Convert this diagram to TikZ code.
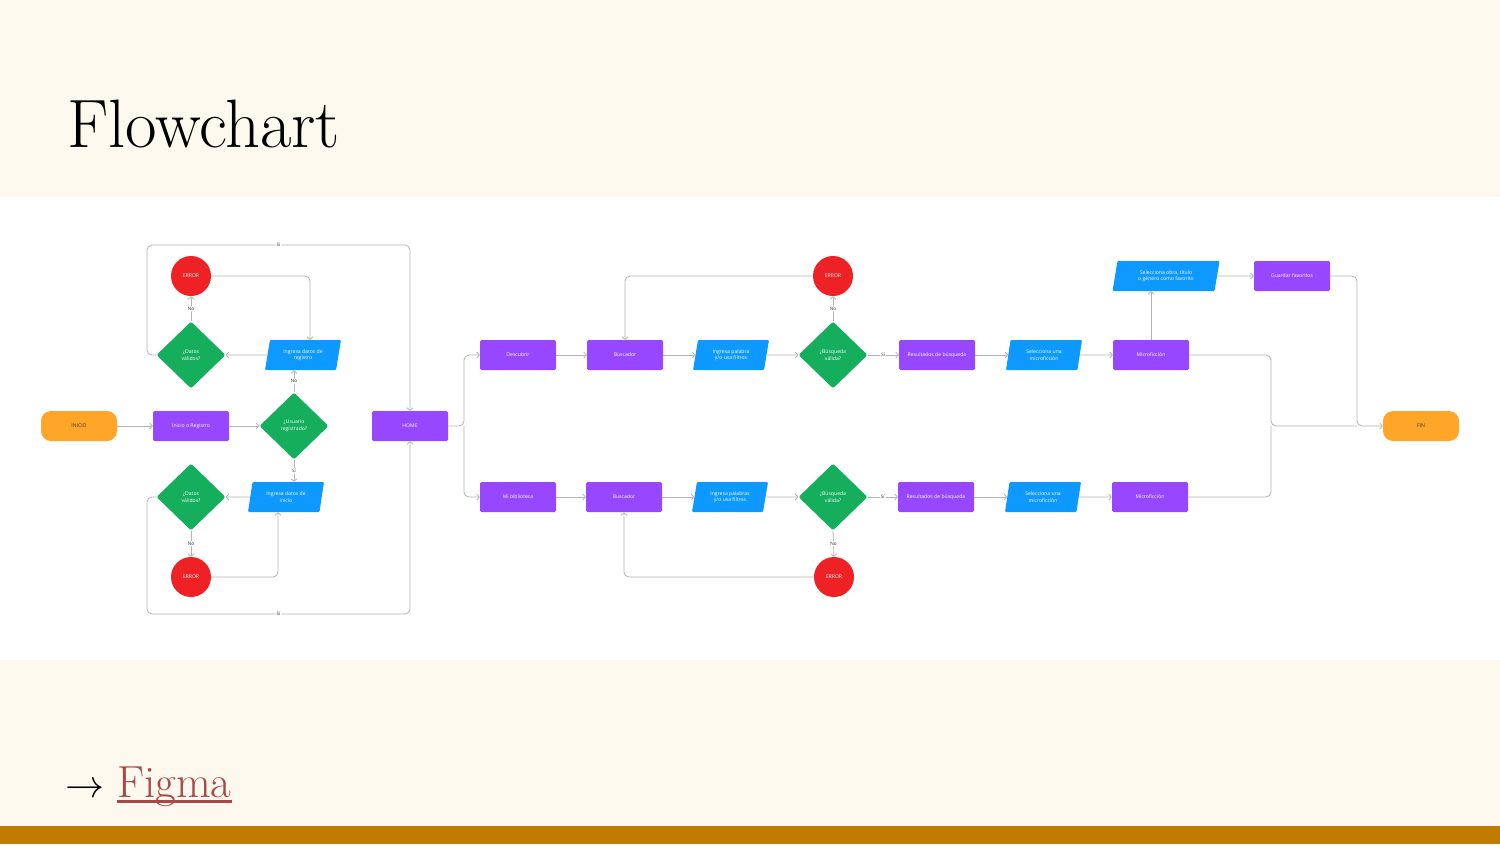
\documentclass[tikz,border=0pt]{standalone}
\usepackage{fontspec}
\usepackage{tikz}
\usetikzlibrary{arrows.meta,shapes.geometric}
\newfontfamily\figfont{Open Sans}
\definecolor{creamcolor}{RGB}{253,249,239}
\definecolor{barcolor}{RGB}{193,124,0}
\definecolor{linkcolor}{RGB}{169,72,70}
\definecolor{proccolor}{RGB}{151,71,255}
\definecolor{iocolor}{RGB}{13,153,255}
\definecolor{deccolor}{RGB}{20,174,92}
\definecolor{errcolor}{RGB}{238,34,36}
\definecolor{termcolor}{RGB}{255,166,41}
\definecolor{flowcolor}{RGB}{180,180,180}
\tikzset{
  fc proc/.style={
    rectangle,
    rounded corners=1.5pt,
    fill=proccolor,
    minimum width=76pt,
    minimum height=30pt,
    inner sep=1pt,
    align=center,
    text=white,
    font=\figfont\fontsize{5.1}{6.6}\selectfont
  },
  fc term/.style={
    fc proc,
    rounded corners=10pt,
    fill=termcolor,
    text=black!80
  },
  fc io/.style={
    fc proc,
    trapezium,
    trapezium left angle=70,
    trapezium right angle=110,
    trapezium stretches body,
    rounded corners=1pt,
    fill=iocolor
  },
  fc io wide/.style={
    fc io,
    minimum width=107pt
  },
  fc dec/.style={
    fc proc,
    diamond,
    fill=deccolor,
    minimum width=69pt,
    minimum height=67pt,
    inner sep=0pt
  },
  fc err/.style={
    fc proc,
    circle,
    fill=errcolor,
    minimum size=40pt,
    inner sep=0pt
  },
  flow/.style={
    draw=flowcolor,
    line width=0.8pt,
    rounded corners=5pt,
    -{Straight Barb[length=2.5pt,width=6pt]}
  },
  lab/.style={
    fill=white,
    inner sep=1pt,
    text=black!85,
    font=\figfont\fontsize{4.6}{5}\selectfont
  }
}

\begin{document}
\begin{tikzpicture}[x=1pt, y=-1pt]

  % Slide background
  \useasboundingbox (0,0) rectangle (1500,844);
  \fill[creamcolor] (0,0) rectangle (1500,844);
  \fill[white] (0,197) rectangle (1500,660);
  \fill[barcolor] (0,826) rectangle (1500,844);

  % Title and link
  \node[anchor=base west, inner sep=0pt, font=\fontsize{68.5}{74}\selectfont] (title) at (67,147) {Flowchart};
  \node[anchor=base west, inner sep=0pt, scale=3.9] (linkarrow) at (65,797) {$\rightarrow$};
  \node[anchor=base west, inner sep=0pt, text=linkcolor, font=\fontsize{45}{50}\selectfont] (figma) at (117,797) {Figma};
  \draw[linkcolor, line width=2.6pt] ([yshift=-4.5pt]figma.base west) -- ([yshift=-4.5pt]figma.base east);

  % Login and registration
  \node[fc term] (inicio) at (79,426) {INICIO};
  \node[fc proc] (reg) at (191,426) {Inicio o Registro};
  \node[fc dec] (usr) at (294,426) {¿Usuario\\registrado?};
  \node[fc proc] (home) at (410,426) {HOME};
  \node[fc io] (regdata) at (303,355) {Ingresa datos de\\registro};
  \node[fc dec] (val1) at (191,355) {¿Datos\\válidos?};
  \node[fc err] (err1) at (191,276) {ERROR};
  \node[fc io] (logdata) at (286,497) {Ingresa datos de\\inicio};
  \node[fc dec] (val2) at (191,497) {¿Datos\\válidos?};
  \node[fc err] (err2) at (191,577) {ERROR};
  \coordinate (loopn) at (147,245);
  \coordinate (loops) at (147,614);

  \draw[flow] (inicio) -- (reg);
  \draw[flow] (reg) -- (usr);
  \draw[flow] (usr.north) -- node[lab] {No} (usr.north |- regdata.south);
  \draw[flow] (regdata) -- (val1.east);
  \draw[flow] (val1.north) -- node[lab] {No} (err1.south);
  \draw[flow] (err1.east) -| ([xshift=7pt]regdata.north);
  \draw[flow] (val1.west) -| (loopn) -| node[lab, pos=0.25] {Sí} (home.north);
  \draw[flow] (usr.south) -- node[lab] {Sí} (usr.south |- logdata.north);
  \draw[flow] (logdata) -- (val2.east);
  \draw[flow] (val2.south) -- node[lab] {No} (err2.north);
  \draw[flow] (err2.east) -| ([xshift=-8pt]logdata.south);
  \draw[flow] (val2.west) -| (loops) -| node[lab, pos=0.25] {Sí} (home.south);

  % Discover branch
  \coordinate (hsplit) at (464,426);
  \node[fc proc] (desc) at (518,355) {Descubrir};
  \node[fc proc] (busc1) at (625,355) {Buscador};
  \node[fc io] (pal1) at (731,355) {Ingresa palabra\\y/o usa filtros};
  \node[fc dec] (bq1) at (833,355) {¿Búsqueda\\válida?};
  \node[fc err] (err3) at (833,276) {ERROR};
  \node[fc proc] (res1) at (937,355) {Resultados de búsqueda};
  \node[fc io] (sel1) at (1044,355) {Selecciona una\\microficción};
  \node[fc proc] (micro1) at (1151,355) {Microficción};
  \node[fc io wide] (fav) at (1166,276) {Selecciona obra, título\\o género como favorito};
  \node[fc proc] (guard) at (1292,276) {Guardar favoritos};
  \node[fc term] (fin) at (1421,426) {FIN};
  \coordinate (fmerge) at (1271,426);
  \coordinate (gturn) at (1357,426);

  \draw[flow] (home.east) -- (hsplit) |- (desc.west);
  \draw[flow] (desc) -- (busc1);
  \draw[flow] (busc1) -- (pal1);
  \draw[flow] (pal1) -- (bq1.west);
  \draw[flow] (bq1.north) -- node[lab] {No} (err3.south);
  \draw[flow] (err3.west) -| (busc1.north);
  \draw[flow] (bq1.east) -- node[lab] {Sí} (res1.west);
  \draw[flow] (res1) -- (sel1);
  \draw[flow] (sel1) -- (micro1);
  \draw[flow] (micro1.north) -- (micro1.north |- fav.south);
  \draw[flow] (fav) -- (guard);
  \draw[flow] (guard.east) -| (gturn) -- (fin.west);
  \draw[flow, -] (micro1.east) -| (fmerge) -- (gturn);

  % Library branch
  \node[fc proc] (bib) at (518,497) {Mi biblioteca};
  \node[fc proc] (busc2) at (624,497) {Buscador};
  \node[fc io] (pal2) at (730,497) {Ingresa palabras\\y/o usa filtros};
  \node[fc dec] (bq2) at (833,497) {¿Búsqueda\\válida?};
  \node[fc err] (err4) at (834,577) {ERROR};
  \node[fc proc] (res2) at (936,497) {Resultados de búsqueda};
  \node[fc io] (sel2) at (1043,497) {Selecciona una\\microficción};
  \node[fc proc] (micro2) at (1150,497) {Microficción};

  \draw[flow] (hsplit) |- (bib.west);
  \draw[flow] (bib) -- (busc2);
  \draw[flow] (busc2) -- (pal2);
  \draw[flow] (pal2) -- (bq2.west);
  \draw[flow] (bq2.south) -- node[lab] {No} (err4.north);
  \draw[flow] (err4.west) -| (busc2.south);
  \draw[flow] (bq2.east) -- node[lab] {Sí} (res2.west);
  \draw[flow] (res2) -- (sel2);
  \draw[flow] (sel2) -- (micro2);
  \draw[flow, -] (micro2.east) -| (fmerge);

\end{tikzpicture}
\end{document}
